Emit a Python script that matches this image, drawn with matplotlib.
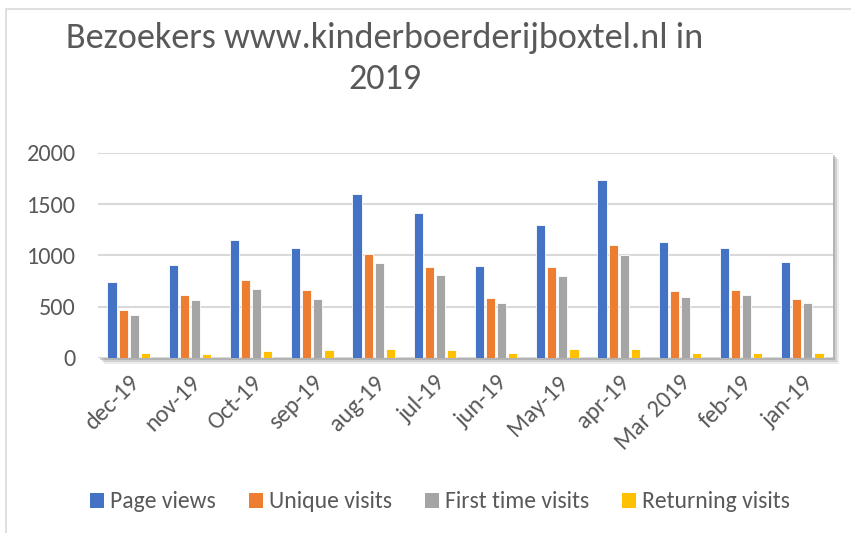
import matplotlib.pyplot as plt
import numpy as np
from matplotlib.patches import Rectangle, Patch

months = ["dec-19", "nov-19", "Oct-19", "sep-19", "aug-19", "jul-19", "jun-19",
          "May-19", "apr-19", "Mar 2019", "feb-19", "jan-19"]
page_views = [740, 907, 1152, 1073, 1598, 1412, 897, 1295, 1732, 1129, 1076, 939]
unique_visits = [473, 617, 757, 659, 1011, 890, 587, 890, 1099, 652, 659, 577]
first_time = [424, 568, 678, 574, 923, 806, 532, 796, 1008, 597, 610, 532]
returning = [46, 39, 72, 78, 88, 78, 52, 88, 88, 52, 46, 46]
series_names = ["Page views", "Unique visits", "First time visits", "Returning visits"]
colors = ["#4472C4", "#ED7D31", "#A5A5A5", "#FFC000"]
yticks = [0, 500, 1000, 1500, 2000]

plt.rcParams['font.family'] = ['Carlito', 'Open Sans', 'DejaVu Sans']
W, H = 851, 533
fig = plt.figure(figsize=(W / 100, H / 100), dpi=100)

# outer frame
fig.patches.append(Rectangle((6 / W, -0.1), 1.2, (H - 9) / H + 0.1, transform=fig.transFigure,
                             fill=False, edgecolor="#D9D9D9", linewidth=1.2, zorder=0))

x0, x1, ytop, ybot = 98, 833, 153, 358
ax = fig.add_axes([x0 / W, 1 - ybot / H, (x1 - x0) / W, (ybot - ytop) / H])
ax.set_zorder(2)
# soft shadow
for k, a in enumerate([0.35, 0.25, 0.15]):
    off = 2 + 2 * k
    fig.patches.append(Rectangle(((x0 + off) / W, 1 - (ybot + off) / H), (x1 - x0) / W, (ybot - ytop) / H,
                                 transform=fig.transFigure, facecolor="#808080", edgecolor="none",
                                 alpha=a, zorder=0))
ax.set_facecolor("white")

data = [page_views, unique_visits, first_time, returning]
n = len(months)
x = np.arange(n)
bw = 0.15
step = 0.18
for i, (vals, c, name) in enumerate(zip(data, colors, series_names)):
    ax.bar(x + (i - 1.5) * step, vals, width=bw, color=c, edgecolor="white", linewidth=0.6,
           label=name, zorder=3)

ax.set_xlim(-0.5, n - 0.5)
ax.set_ylim(0, 2000)
ax.set_yticks(yticks)
ax.set_yticklabels([str(v) for v in yticks])
ax.yaxis.grid(True, color="#D9D9D9", linewidth=1.5, zorder=0)
ax.set_axisbelow(True)
for s in ax.spines.values():
    s.set_visible(False)
ax.tick_params(axis="both", length=0, colors="#595959", labelsize=17.5)
ax.tick_params(axis="y", pad=16)
ax.set_xticks(x)
ax.set_xticklabels(months, rotation=45, ha="right", rotation_mode="anchor")
ax.tick_params(axis="x", pad=10)

fig.text(385 / W, 1 - 38 / H, "Bezoekers www.kinderboerderijboxtel.nl in", ha="center",
         va="center", fontsize=26, color="#595959")
fig.text(385 / W, 1 - 79 / H, "2019", ha="center",
         va="center", fontsize=26, color="#595959")

handles = [Patch(facecolor=c) for c in colors]
fig.legend(handles, series_names, loc="center", bbox_to_anchor=(440 / W, 1 - 502 / H), ncol=4,
           frameon=False, fontsize=17, labelcolor="#595959", handlelength=0.6, handleheight=0.6,
           handletextpad=0.25, columnspacing=1.4)

fig.savefig("out.png", dpi=100)
